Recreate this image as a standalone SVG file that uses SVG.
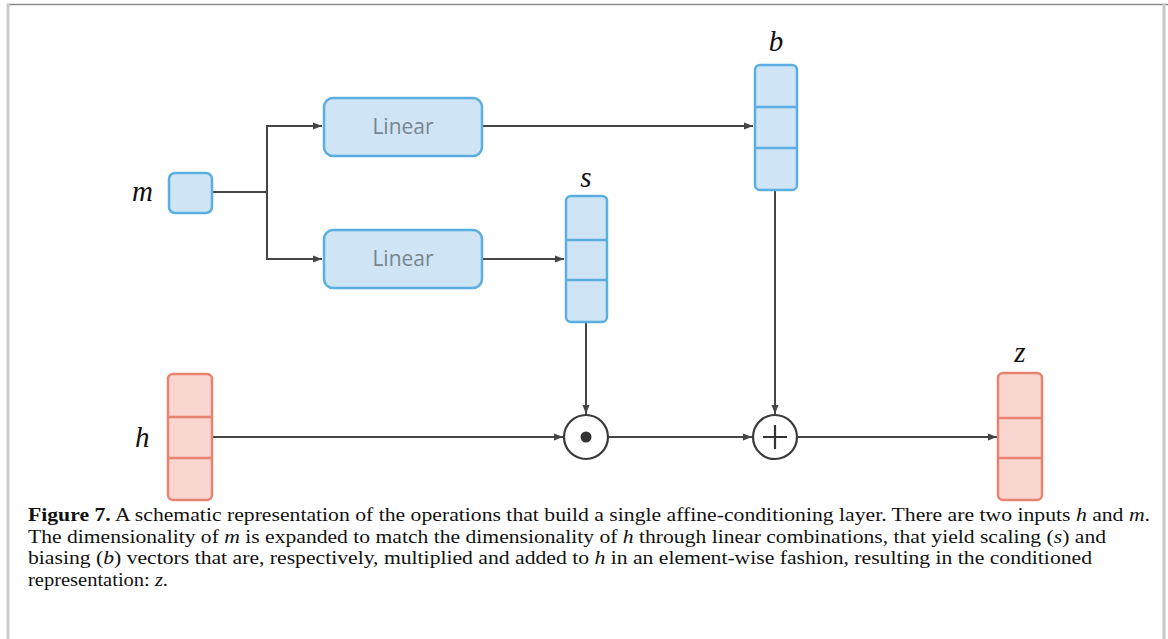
<svg xmlns="http://www.w3.org/2000/svg" width="1168" height="639" viewBox="0 0 1168 639">
  <style>
    .wire { fill: none; stroke: #454545; stroke-width: 2; }
    .blue { fill: #cfe4f5; stroke: #5aaee2; stroke-width: 2.5; }
    .red { fill: #f9d6cf; stroke: #e8836f; stroke-width: 2.5; }
    .bdiv { stroke: #5aaee2; stroke-width: 2.5; }
    .rdiv { stroke: #e8836f; stroke-width: 2.5; }
    .var { font-family: "Liberation Serif", "DejaVu Serif", serif; font-style: italic; font-size: 29px; fill: #111; }
    .lin { font-family: "Open Sans", "Noto Sans", sans-serif; font-size: 21px; fill: #78868f; text-anchor: middle; }
    .cap { font-family: "Liberation Serif", "Times New Roman", serif; font-size: 18.5px; fill: #111; }
    .it { font-style: italic; }
    .op { fill: #fff; stroke: #3a3a3a; stroke-width: 2.2; }
  </style>
  <defs>
    <marker id="arrow" markerUnits="userSpaceOnUse" markerWidth="10" markerHeight="8" refX="9" refY="4" orient="auto">
      <path d="M0,0.5 L9,4 L0,7.5 Z" fill="#454545"/>
    </marker>
  </defs>

  <rect width="1168" height="639" fill="#fff"/>
  <!-- frame -->
  <line x1="7" y1="4.5" x2="1168" y2="4.5" stroke="#8a8a8a" stroke-width="1.5"/>
  <line x1="8" y1="4" x2="8" y2="639" stroke="#c9c9c9" stroke-width="3"/>
  <line x1="1164" y1="4" x2="1164" y2="639" stroke="#c9c9c9" stroke-width="3"/>

  <!-- connectors -->
  <g id="connectors">
    <path class="wire" d="M212,192 H267"/>
    <path class="wire" d="M267,192 V126 H322" marker-end="url(#arrow)"/>
    <path class="wire" d="M267,192 V259 H322" marker-end="url(#arrow)"/>
    <path class="wire" d="M482,126 H753" marker-end="url(#arrow)"/>
    <path class="wire" d="M482,259 H564" marker-end="url(#arrow)"/>
    <path class="wire" d="M586,322 V414" marker-end="url(#arrow)"/>
    <path class="wire" d="M775,190 V414" marker-end="url(#arrow)"/>
    <path class="wire" d="M212,437 H563" marker-end="url(#arrow)"/>
    <path class="wire" d="M608,437 H752" marker-end="url(#arrow)"/>
    <path class="wire" d="M798,437 H997" marker-end="url(#arrow)"/>
  </g>

  <!-- input m -->
  <g id="node-m">
    <text class="var" x="132" y="201">m</text>
    <rect class="blue" x="169" y="173" width="43" height="40" rx="6"/>
  </g>

  <!-- linear layers -->
  <g id="node-linear-b">
    <rect class="blue" x="324" y="98" width="158" height="58" rx="9"/>
    <text class="lin" x="403" y="134">Linear</text>
  </g>
  <g id="node-linear-s">
    <rect class="blue" x="324" y="230" width="158" height="58" rx="9"/>
    <text class="lin" x="403" y="266">Linear</text>
  </g>

  <!-- bias vector b -->
  <g id="node-b">
    <text class="var" x="776" y="51" text-anchor="middle">b</text>
    <rect class="blue" x="755" y="65" width="42" height="125" rx="5"/>
    <line class="bdiv" x1="755" y1="107" x2="797" y2="107"/>
    <line class="bdiv" x1="755" y1="148" x2="797" y2="148"/>
  </g>

  <!-- scale vector s -->
  <g id="node-s">
    <text class="var" x="586" y="187" text-anchor="middle">s</text>
    <rect class="blue" x="566" y="196" width="41" height="126" rx="5"/>
    <line class="bdiv" x1="566" y1="240" x2="607" y2="240"/>
    <line class="bdiv" x1="566" y1="280" x2="607" y2="280"/>
  </g>

  <!-- input h -->
  <g id="node-h">
    <text class="var" x="135" y="447">h</text>
    <rect class="red" x="168" y="374" width="44" height="126" rx="5"/>
    <line class="rdiv" x1="168" y1="417" x2="212" y2="417"/>
    <line class="rdiv" x1="168" y1="458" x2="212" y2="458"/>
  </g>

  <!-- element-wise product -->
  <g id="node-mul">
    <circle class="op" cx="586" cy="437" r="22"/>
    <circle cx="586" cy="437" r="5.5" fill="#333"/>
  </g>

  <!-- element-wise sum -->
  <g id="node-add">
    <circle class="op" cx="775" cy="437" r="22"/>
    <path d="M763,437 H787 M775,425 V449" stroke="#333" stroke-width="2.2"/>
  </g>

  <!-- output z -->
  <g id="node-z">
    <text class="var" x="1020" y="362" text-anchor="middle">z</text>
    <rect class="red" x="998" y="373" width="44" height="127" rx="5"/>
    <line class="rdiv" x1="998" y1="418" x2="1042" y2="418"/>
    <line class="rdiv" x1="998" y1="458" x2="1042" y2="458"/>
  </g>

  <!-- caption -->
  <g id="caption" class="cap">
    <text x="28" y="521" textLength="1122" lengthAdjust="spacingAndGlyphs"><tspan font-weight="bold">Figure 7.</tspan> A schematic representation of the operations that build a single affine-conditioning layer. There are two inputs <tspan class="it">h</tspan> and <tspan class="it">m</tspan>.</text>
    <text x="28" y="542.5" textLength="1078" lengthAdjust="spacingAndGlyphs">The dimensionality of <tspan class="it">m</tspan> is expanded to match the dimensionality of <tspan class="it">h</tspan> through linear combinations, that yield scaling (<tspan class="it">s</tspan>) and</text>
    <text x="28" y="564" textLength="1064" lengthAdjust="spacingAndGlyphs">biasing (<tspan class="it">b</tspan>) vectors that are, respectively, multiplied and added to <tspan class="it">h</tspan> in an element-wise fashion, resulting in the conditioned</text>
    <text x="28" y="585.5" textLength="140" lengthAdjust="spacingAndGlyphs">representation: <tspan class="it">z</tspan>.</text>
  </g>
</svg>
